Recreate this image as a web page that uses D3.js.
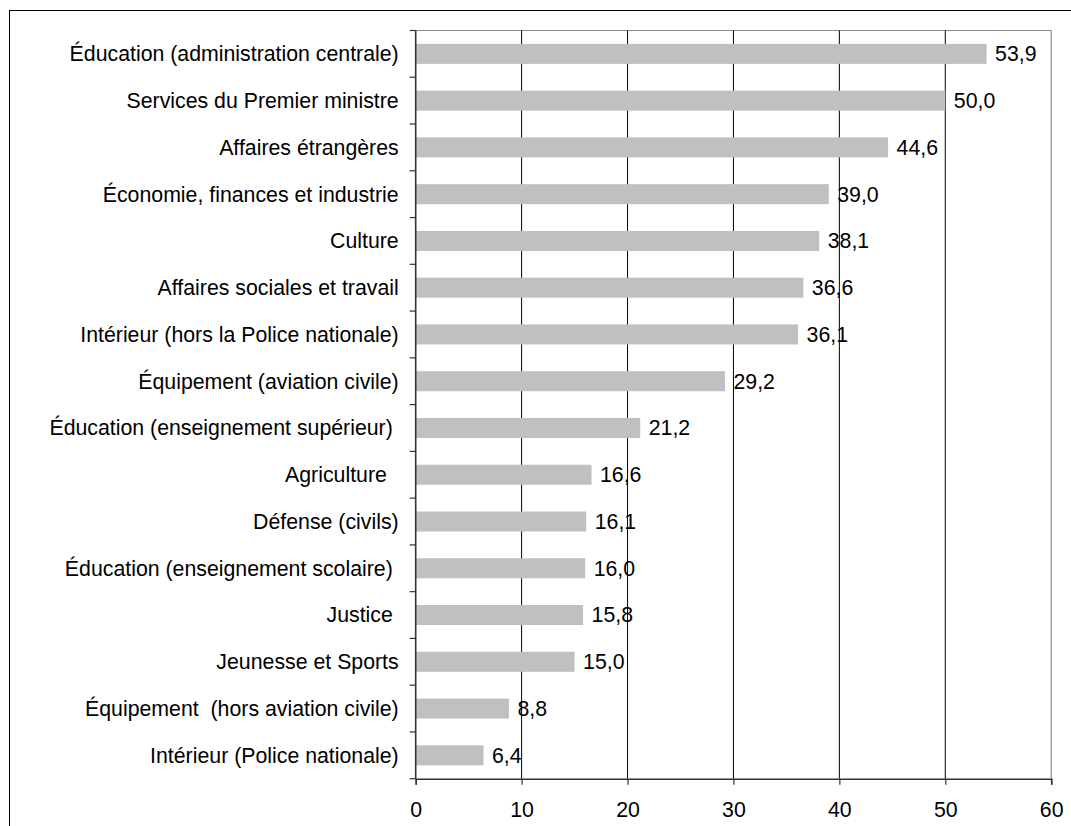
<!DOCTYPE html>
<html lang="fr">
<head>
<meta charset="utf-8">
<script src="https://cdn.jsdelivr.net/npm/d3@7"></script>
<style>
  html, body { margin: 0; padding: 0; background: #fff; }
  svg { display: block; font-family: "Liberation Sans", Arial, sans-serif; }
  text { white-space: pre; }
</style>
</head>
<body>
<svg id="chart" width="1071" height="826"></svg>
<script>
// Ministères, du plus élevé au plus faible
const categories = [
  "Éducation (administration centrale)",
  "Services du Premier ministre",
  "Affaires étrangères",
  "Économie, finances et industrie",
  "Culture",
  "Affaires sociales et travail",
  "Intérieur (hors la Police nationale)",
  "Équipement (aviation civile)",
  "Éducation (enseignement supérieur) ",
  "Agriculture  ",
  "Défense (civils)",
  "Éducation (enseignement scolaire) ",
  "Justice ",
  "Jeunesse et Sports",
  "Équipement  (hors aviation civile)",
  "Intérieur (Police nationale)"
];
const values = [53.9, 50.0, 44.6, 39.0, 38.1, 36.6, 36.1, 29.2, 21.2, 16.6, 16.1, 16.0, 15.8, 15.0, 8.8, 6.4];
const xTicks = [0, 10, 20, 30, 40, 50, 60];

const svg = d3.select("#chart");
const fontSize = 21.3;

// Cadre extérieur
svg.append("rect")
  .attr("x", 9.5).attr("y", 10.5)
  .attr("width", 1100).attr("height", 900)
  .attr("fill", "none").attr("stroke", "#000").attr("stroke-width", 1);

const plot = { left: 415.7, right: 1051.2, top: 30.5, bottom: 778.7 };

const x = d3.scaleLinear().domain([0, 60]).range([plot.left, plot.right]);
const y = d3.scaleBand()
  .domain(categories)
  .range([plot.top, plot.bottom])
  .paddingInner(0.572)
  .paddingOuter(0.286);

const g = svg.append("g");

// Bordure de la zone de tracé (haut et droite)
g.append("path")
  .attr("d", `M${plot.left},${plot.top}H${plot.right}V${plot.bottom}`)
  .attr("fill", "none").attr("stroke", "#8c8c8c").attr("stroke-width", 1.2);

// Quadrillage vertical
g.selectAll("line.grid")
  .data(xTicks.filter(t => t > 0 && t < 60))
  .join("line")
  .attr("class", "grid")
  .attr("x1", d => x(d)).attr("x2", d => x(d))
  .attr("y1", plot.top).attr("y2", plot.bottom)
  .attr("stroke", "#000").attr("stroke-width", 1);

// Barres
g.selectAll("rect.bar")
  .data(values)
  .join("rect")
  .attr("class", "bar")
  .attr("x", x(0))
  .attr("y", (d, i) => y(categories[i]))
  .attr("width", d => x(d) - x(0))
  .attr("height", y.bandwidth())
  .attr("fill", "#c0c0c0");

// Étiquettes de valeur
g.selectAll("text.val")
  .data(values)
  .join("text")
  .attr("class", "val")
  .attr("x", d => x(d) + 8.5)
  .attr("y", (d, i) => y(categories[i]) + y.bandwidth() / 2)
  .attr("dy", "0.35em")
  .attr("font-size", fontSize)
  .attr("fill", "#000")
  .text(d => d.toFixed(1).replace(".", ","));

// Axe horizontal
const xAxis = d3.axisBottom(x)
  .tickValues(xTicks)
  .tickSize(6)
  .tickPadding(17)
  .tickFormat(d3.format("d"));
const gx = svg.append("g")
  .attr("transform", `translate(0,${plot.bottom})`)
  .call(xAxis);
gx.select(".domain").attr("stroke", "#333").attr("stroke-width", 1.6);
gx.selectAll(".tick line").attr("stroke", "#333").attr("stroke-width", 1.2);
gx.selectAll(".tick text")
  .attr("font-size", fontSize)
  .attr("font-family", "Liberation Sans, Arial, sans-serif")
  .attr("fill", "#000");

// Axe vertical des catégories (graduations aux limites des bandes)
const gy = svg.append("g").attr("transform", `translate(${plot.left},0)`);
gy.append("line")
  .attr("y1", plot.top).attr("y2", plot.bottom)
  .attr("stroke", "#333").attr("stroke-width", 1.6);
const step = y.step();
const bounds = d3.range(categories.length + 1).map(i => plot.top + i * step);
gy.selectAll("line.tk")
  .data(bounds)
  .join("line")
  .attr("class", "tk")
  .attr("x1", -6).attr("x2", 0)
  .attr("y1", d => d).attr("y2", d => d)
  .attr("stroke", "#333").attr("stroke-width", 1.2);
gy.selectAll("text.cat")
  .data(categories)
  .join("text")
  .attr("class", "cat")
  .attr("x", -17)
  .attr("y", d => y(d) + y.bandwidth() / 2)
  .attr("dy", "0.35em")
  .attr("text-anchor", "end")
  .attr("font-size", fontSize)
  .attr("fill", "#000")
  .text(d => d);
</script>
</body>
</html>
